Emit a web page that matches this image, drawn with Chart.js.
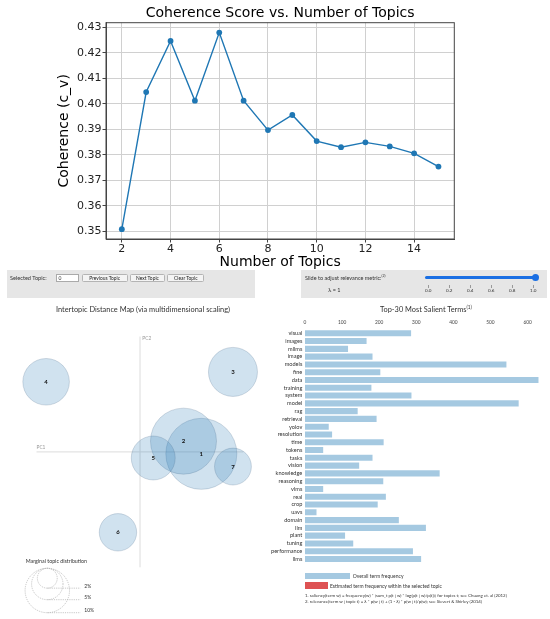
<!DOCTYPE html>
<html>
<head>
<meta charset="utf-8">
<title>Coherence and LDAvis</title>
<script src="https://cdn.jsdelivr.net/npm/chart.js@4.4.1/dist/chart.umd.min.js"></script>
<style>
  body { margin: 0; background: #fff; }
  #page { position: relative; width: 550px; height: 619px; overflow: hidden; font-family: Lato, "Open Sans", sans-serif; color: #333; }
  canvas { position: absolute; }
  .panel { position: absolute; background: #e6e6e6; }
  .t { position: absolute; white-space: nowrap; }
  .btn { position: absolute; top: 273.7px; height: 8.4px; box-sizing: border-box; border: 1px solid #b4b4b4; border-radius: 1.5px;
         background: #f4f4f4; font-size: 4.9px; line-height: 6.4px; text-align: center; color: #222; }
  sup { font-size: 65%; line-height: 0; }
</style>
</head>
<body>
<div id="page">
  <canvas id="cohChart" width="550" height="275" style="left:0;top:0"></canvas>

  <!-- controls -->
  <div class="panel" style="left:7px;top:270px;width:248px;height:28px"></div>
  <div class="t" style="left:10px;top:274.5px;font-size:5.6px;line-height:6.4px">Selected Topic:</div>
  <div class="t" style="left:56px;top:273.7px;width:23.3px;height:8.3px;box-sizing:border-box;border:1px solid #aaa;background:#fff;font-size:5px;line-height:6.3px;padding-left:1.5px">0</div>
  <div class="btn" style="left:81.7px;width:46px">Previous Topic</div>
  <div class="btn" style="left:130.3px;width:34.4px">Next Topic</div>
  <div class="btn" style="left:167.3px;width:37px">Clear Topic</div>

  <div class="panel" style="left:300.7px;top:269.5px;width:246.5px;height:28.5px"></div>
  <div class="t" style="left:305px;top:275.3px;font-size:5.5px;line-height:6.4px">Slide to adjust relevance metric:<sup>(2)</sup></div>
  <div class="t" style="left:328.3px;top:287.1px;font-size:5.5px;line-height:6.4px">λ = 1</div>
  <div class="t" style="left:425px;top:275.8px;width:110px;height:3px;background:#1a6fe3;border-radius:1.5px"></div>
  <div class="t" style="left:531.5px;top:273.8px;width:7px;height:7px;background:#1a6fe3;border-radius:50%"></div>
  <div id="sliderTicks"></div>

  <!-- panel titles -->
  <div class="t" style="left:0;width:286px;top:304.5px;text-align:center;font-size:7.4px;line-height:9px">Intertopic Distance Map (via multidimensional scaling)</div>
  <div class="t" style="left:326px;width:200px;top:304.5px;text-align:center;font-size:7.4px;line-height:9px">Top-30 Most Salient Terms<sup>(1)</sup></div>

  <canvas id="mdsChart" width="280" height="319" style="left:0;top:300px"></canvas>
  <canvas id="barChart" width="280" height="319" style="left:270px;top:300px"></canvas>

  <!-- bar legend and notes -->
  <div class="t" style="left:305px;top:572.7px;width:45.3px;height:6.3px;background:rgba(31,119,180,0.4)"></div>
  <div class="t" style="left:352.7px;top:572.8px;font-size:5px;line-height:6px">Overall term frequency</div>
  <div class="t" style="left:305px;top:582.3px;width:22.7px;height:6.7px;background:#de5253"></div>
  <div class="t" style="left:330px;top:582.6px;font-size:5px;line-height:6px">Estimated term frequency within the selected topic</div>
  <div class="t" style="left:305px;top:592.5px;font-size:4.4px;line-height:5px">1. saliency(term w) = frequency(w) * [sum_t p(t | w) * log(p(t | w)/p(t))] for topics t; see Chuang et. al (2012)</div>
  <div class="t" style="left:305px;top:599.2px;font-size:4.4px;line-height:5px">2. relevance(term w | topic t) = λ * p(w | t) + (1 - λ) * p(w | t)/p(w); see Sievert &amp; Shirley (2014)</div>
</div>

<script>
// ---- coherence sweep ----
const numTopics = [2, 3, 4, 5, 6, 7, 8, 9, 10, 11, 12, 13, 14, 15];
const coherence = [0.3509, 0.4046, 0.4246, 0.4012, 0.4279, 0.4012, 0.3897, 0.3956, 0.3854, 0.3830, 0.3849, 0.3833, 0.3806, 0.3754];
const xTicks = [2, 4, 6, 8, 10, 12, 14];
const yTicks = [0.35, 0.36, 0.37, 0.38, 0.39, 0.40, 0.41, 0.42, 0.43];

// ---- LDAvis: topics on the PC1/PC2 map ----
const topicIds = [1, 2, 3, 4, 5, 6, 7];
const topicPC1 = [0.1778, 0.1261, 0.2695, -0.2722, 0.0384, -0.0639, 0.2695];
const topicPC2 = [-0.0050, 0.0280, 0.2080, 0.1823, -0.0158, -0.2090, -0.0381];
const topicShare = [25.6, 22.1, 12.2, 11.0, 9.8, 7.1, 6.9]; // % of tokens
const legendShares = [2, 5, 10];

// ---- LDAvis: salient terms ----
const terms = ['visual', 'images', 'mllms', 'image', 'models', 'fine', 'data', 'training', 'system', 'model',
  'rag', 'retrieval', 'yolov', 'resolution', 'time', 'tokens', 'tasks', 'vision', 'knowledge', 'reasoning',
  'vlms', 'real', 'crop', 'uavs', 'domain', 'llm', 'plant', 'tuning', 'performance', 'llms'];
const termFreq = [286, 166, 116, 182, 543, 203, 630, 179, 287, 576,
  142, 193, 64, 73, 212, 49, 182, 146, 363, 211,
  49, 218, 196, 31, 253, 326, 108, 130, 291, 313];
const freqTicks = [0, 100, 200, 300, 400, 500, 600];
const sliderTicks = [0.0, 0.2, 0.4, 0.6, 0.8, 1.0];

const MPL = '"DejaVu Sans", sans-serif';
const rMax = 70.2; // radius of a topic holding 100% of tokens

// slider tick marks
const sliderBox = document.getElementById('sliderTicks');
sliderTicks.forEach(v => {
  const x = 428.3 + v * 105;
  sliderBox.insertAdjacentHTML('beforeend',
    '<div class="t" style="left:' + (x - 0.4) + 'px;top:284.5px;width:0.8px;height:3px;background:#999"></div>' +
    '<div class="t" style="left:' + (x - 8) + 'px;width:16px;text-align:center;top:288px;font-size:4.6px;line-height:5px">' + v.toFixed(1) + '</div>');
});

// full frame round the axes, like matplotlib spines
const frame = {
  id: 'frame',
  afterDraw(chart) {
    const {ctx, chartArea: a} = chart;
    ctx.save();
    ctx.strokeStyle = '#444';
    ctx.lineWidth = 1;
    ctx.strokeRect(a.left, a.top, a.right - a.left, a.bottom - a.top);
    ctx.restore();
  }
};

new Chart(document.getElementById('cohChart'), {
  type: 'line',
  data: {
    datasets: [{
      data: numTopics.map((n, i) => ({x: n, y: coherence[i]})),
      borderColor: '#1f77b4',
      backgroundColor: '#1f77b4',
      borderWidth: 1.4,
      pointRadius: 2.9,
      pointBorderWidth: 0,
      tension: 0
    }]
  },
  options: {
    responsive: false,
    animation: false,
    layout: {padding: {left: 0, right: 95.7, top: 0, bottom: 0}},
    plugins: {
      legend: {display: false},
      tooltip: {enabled: false},
      title: {
        display: true,
        fullSize: false,
        text: 'Coherence Score vs. Number of Topics',
        color: '#000',
        font: {family: MPL, size: 14, weight: 'normal'},
        padding: {top: 4.9, bottom: 1}
      }
    },
    scales: {
      x: {
        type: 'linear',
        min: 1.35,
        max: 15.65,
        afterBuildTicks: s => { s.ticks = xTicks.map(v => ({value: v})); },
        afterFit: s => { s.height = 36; },
        ticks: {color: '#222', font: {family: MPL, size: 11}, padding: 0, maxRotation: 0},
        grid: {color: '#d0d0d0', lineWidth: 1, tickLength: 3.5, tickColor: '#444'},
        border: {color: '#444'},
        title: {display: true, text: 'Number of Topics', color: '#000', font: {family: MPL, size: 14}, padding: {top: 0, bottom: 4.6}}
      },
      y: {
        min: 0.34705,
        max: 0.43175,
        afterBuildTicks: s => { s.ticks = yTicks.map(v => ({value: v})); },
        afterFit: s => { s.width = 106; },
        ticks: {color: '#222', font: {family: MPL, size: 11}, padding: 1, callback: v => v.toFixed(2)},
        grid: {color: '#d0d0d0', lineWidth: 1, tickLength: 3.5, tickColor: '#444'},
        border: {color: '#444'},
        title: {display: true, text: 'Coherence (c_v)', color: '#000', font: {family: MPL, size: 14}, padding: {top: 55.8, bottom: 0}}
      }
    }
  },
  plugins: [frame]
});

// axes lines, topic numbers and size legend for the distance map
const mdsDecor = {
  id: 'mdsDecor',
  beforeDatasetsDraw(chart) {
    const {ctx, chartArea: a, scales: {x, y}} = chart;
    const x0 = x.getPixelForValue(0);
    const y0 = y.getPixelForValue(0);
    ctx.save();
    ctx.strokeStyle = '#dcdcdc';
    ctx.lineWidth = 1;
    ctx.beginPath();
    ctx.moveTo(a.left, y0); ctx.lineTo(a.right, y0);
    ctx.moveTo(x0, a.top); ctx.lineTo(x0, a.bottom);
    ctx.stroke();
    ctx.fillStyle = '#999';
    ctx.font = '4.8px Lato';
    ctx.textBaseline = 'middle';
    ctx.fillText('PC1', a.left, y0 - 4.3);
    ctx.fillText('PC2', x0 + 2.3, a.top + 1.7);
    ctx.restore();
  },
  afterDatasetsDraw(chart) {
    const {ctx} = chart;
    const meta = chart.getDatasetMeta(0);
    ctx.save();
    ctx.fillStyle = '#111';
    ctx.font = 'bold 6px Lato';
    ctx.textAlign = 'center';
    ctx.textBaseline = 'middle';
    meta.data.forEach((el, i) => ctx.fillText(String(topicIds[i]), el.x, el.y));

    // marginal topic distribution legend
    const cx = 47.3, top = 268.3;
    ctx.textAlign = 'left';
    ctx.font = '5.3px Lato';
    ctx.fillStyle = '#333';
    ctx.fillText('Marginal topic distribution', 25.7, 261.7);
    ctx.strokeStyle = '#b0b0b0';
    ctx.lineWidth = 0.7;
    ctx.setLineDash([1.2, 1]);
    ctx.font = '5px Lato';
    legendShares.forEach(p => {
      const r = rMax * Math.sqrt(p / 100);
      ctx.beginPath();
      ctx.arc(cx, top + r, r, 0, Math.PI * 2);
      ctx.moveTo(cx, top + 2 * r);
      ctx.lineTo(80.5, top + 2 * r);
      ctx.stroke();
      ctx.fillText(p + '%', 84.3, top + 2 * r - 2);
    });
    ctx.restore();
  }
};

new Chart(document.getElementById('mdsChart'), {
  type: 'bubble',
  data: {
    datasets: [{
      data: topicIds.map((t, i) => ({x: topicPC1[i], y: topicPC2[i], r: rMax * Math.sqrt(topicShare[i] / 100)})),
      backgroundColor: 'rgba(31,119,180,0.21)',
      borderColor: 'rgba(70,100,130,0.22)',
      borderWidth: 1,
      hoverRadius: 0,
      clip: false
    }]
  },
  options: {
    responsive: false,
    animation: false,
    layout: {padding: {left: 20.7, right: 15.3, top: 25, bottom: 51.7}},
    plugins: {legend: {display: false}, tooltip: {enabled: false}},
    scales: {
      x: {type: 'linear', min: -0.3, max: 0.3, display: false},
      y: {type: 'linear', min: -0.3, max: 0.3, display: false}
    }
  },
  plugins: [mdsDecor]
});

// term names on the left and frequency ticks on top
const barLabels = {
  id: 'barLabels',
  afterDraw(chart) {
    const {ctx, chartArea: a, scales: {x, y}} = chart;
    ctx.save();
    ctx.fillStyle = '#333';
    ctx.font = '5.6px Lato';
    ctx.textAlign = 'right';
    ctx.textBaseline = 'middle';
    terms.forEach((term, i) => ctx.fillText(term, a.left - 2.7, y.getPixelForValue(i)));
    ctx.textAlign = 'center';
    ctx.font = '4.8px Lato';
    ctx.fillStyle = '#444';
    freqTicks.forEach(v => ctx.fillText(String(v), x.getPixelForValue(v), 22.3));
    ctx.restore();
  }
};

new Chart(document.getElementById('barChart'), {
  type: 'bar',
  data: {
    labels: terms,
    datasets: [{
      data: termFreq,
      backgroundColor: 'rgba(31,119,180,0.4)',
      barPercentage: 0.78,
      categoryPercentage: 1
    }]
  },
  options: {
    indexAxis: 'y',
    responsive: false,
    animation: false,
    layout: {padding: {left: 35, right: 11.3, top: 29.4, bottom: 56.1}},
    plugins: {legend: {display: false}, tooltip: {enabled: false}},
    scales: {
      x: {min: 0, max: Math.max(...termFreq), display: false},
      y: {display: false}
    }
  },
  plugins: [barLabels]
});
</script>
</body>
</html>
